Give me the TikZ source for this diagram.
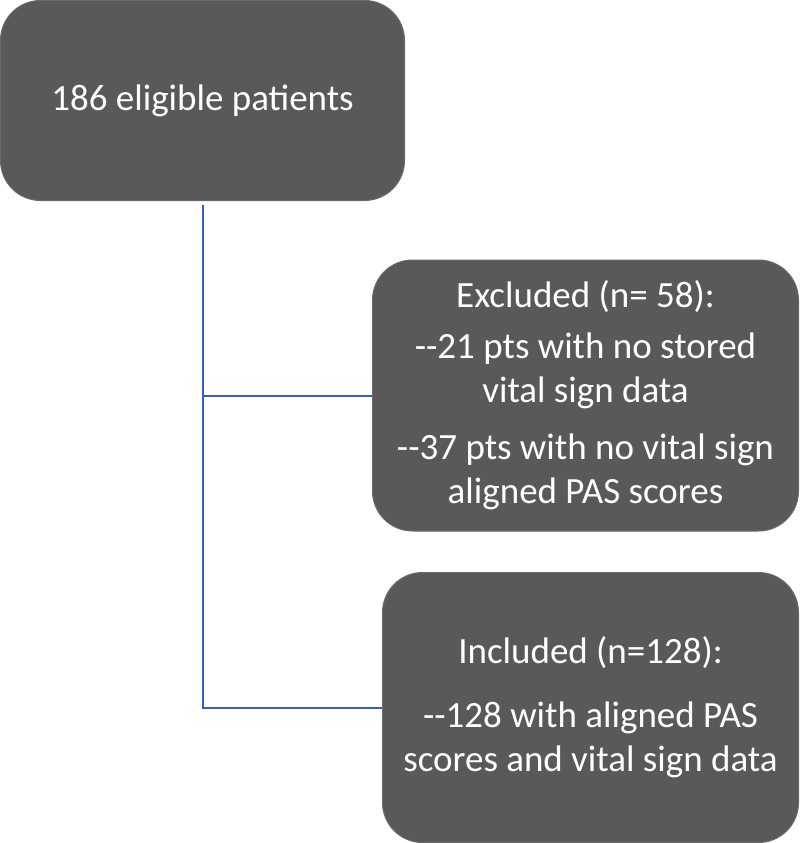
\documentclass[tikz,border=0pt]{standalone}
\usepackage{fontspec}
\setmainfont{Carlito}
\definecolor{boxfill}{HTML}{595959}
\definecolor{boxline}{HTML}{6A6A6A}
\definecolor{conn}{HTML}{3A5FBA}
\begin{document}
\begin{tikzpicture}[x=1pt,y=1pt,
  flowbox/.style={draw=boxline, line width=1pt, fill=boxfill, rounded corners=40pt,
    text=white, align=center, inner sep=0pt,
    font=\fontsize{37}{44}\selectfont},
  link/.style={draw=conn, line width=2pt}]
\useasboundingbox (0,0) rectangle (800,-843);
\node[flowbox, minimum width=404pt, minimum height=200pt] (b1) at (202.5,-100.5) {186 eligible patients};
\node[flowbox, minimum width=426pt, minimum height=271pt] (b2) at (585.5,-395.5)
  {Excluded (n= 58):\\[7pt]-{}-21 pts with no stored\\vital sign data\\[13pt]-{}-37 pts with no vital sign\\aligned PAS scores};
\node[flowbox, minimum width=416pt, minimum height=270pt] (b3) at (590.5,-707.5)
  {Included (n=128):\\[20pt]-{}-128 with aligned PAS\\scores and vital sign data\rule[-8pt]{0pt}{8pt}};
\coordinate (top) at ([yshift=-4pt]b1.south);
\draw[link] (top) -- (top |- b3.west) -- (b3.west);
\draw[link] (top |- b2.west) -- (b2.west);
\end{tikzpicture}
\end{document}
